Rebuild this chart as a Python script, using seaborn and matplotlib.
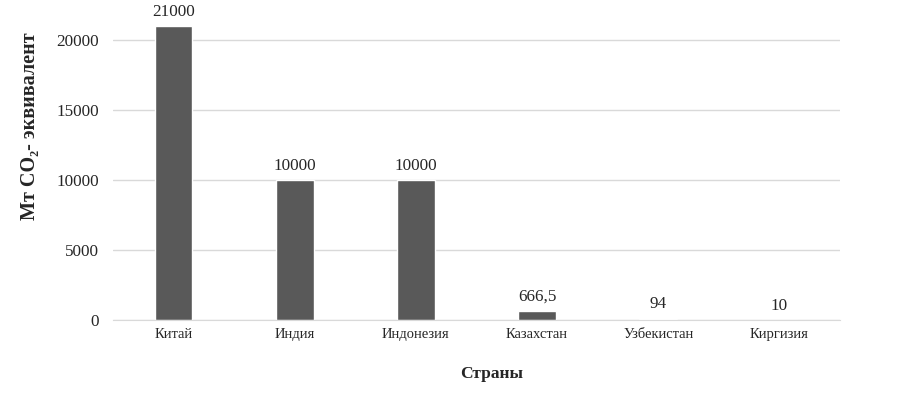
import matplotlib
matplotlib.use("Agg")
import matplotlib.pyplot as plt
import seaborn as sns
import pandas as pd

countries = ["Китай", "Индия", "Индонезия", "Казахстан", "Узбекистан", "Киргизия"]
values = [21000, 10000, 10000, 666.5, 94, 10]
value_labels = ["21000", "10000", "10000", "666,5", "94", "10"]
yticks = [0, 5000, 10000, 15000, 20000]

sns.set_style("white")
plt.rcParams['font.family'] = ['Liberation Serif', 'DejaVu Serif']

df = pd.DataFrame({"country": countries, "value": values})

fig = plt.figure(figsize=(9.1, 3.93), dpi=100)
ax = fig.add_axes([113/910, (393-320)/393, (840-113)/910, 320/393])
sns.barplot(data=df, x="country", y="value", color="#595959", saturation=1,
            width=0.31, ax=ax, zorder=3)
ax.set_ylim(0, 22857)
ax.set_xlim(-0.5, 5.5)
ax.set_yticks(yticks)
ax.set_yticklabels([str(t) for t in yticks], fontsize=12.3)
ax.tick_params(axis='y', length=0, pad=10)
ax.tick_params(axis='x', length=0, pad=6, labelsize=10.5)
ax.grid(axis='y', color='#d9d9d9', linewidth=1, zorder=0)
for s in ["top", "right", "left"]:
    ax.spines[s].set_visible(False)
ax.spines["bottom"].set_color("#d9d9d9")
ax.spines["bottom"].set_zorder(4)

for i, (v, lab) in enumerate(zip(values, value_labels)):
    ax.text(i, v + 450, lab, ha='center', va='bottom', fontsize=12.3, clip_on=False)

ax.set_xlabel("Страны", fontsize=12.5, fontweight='bold')
ax.xaxis.set_label_coords((492-113)/727, -(366-320)/320)
ax.set_ylabel("Мт CO₂- эквивалент", fontsize=14.5, fontweight='bold')
ax.yaxis.set_label_coords(-0.101, 0.605)

fig.savefig("out.png", dpi=100)
